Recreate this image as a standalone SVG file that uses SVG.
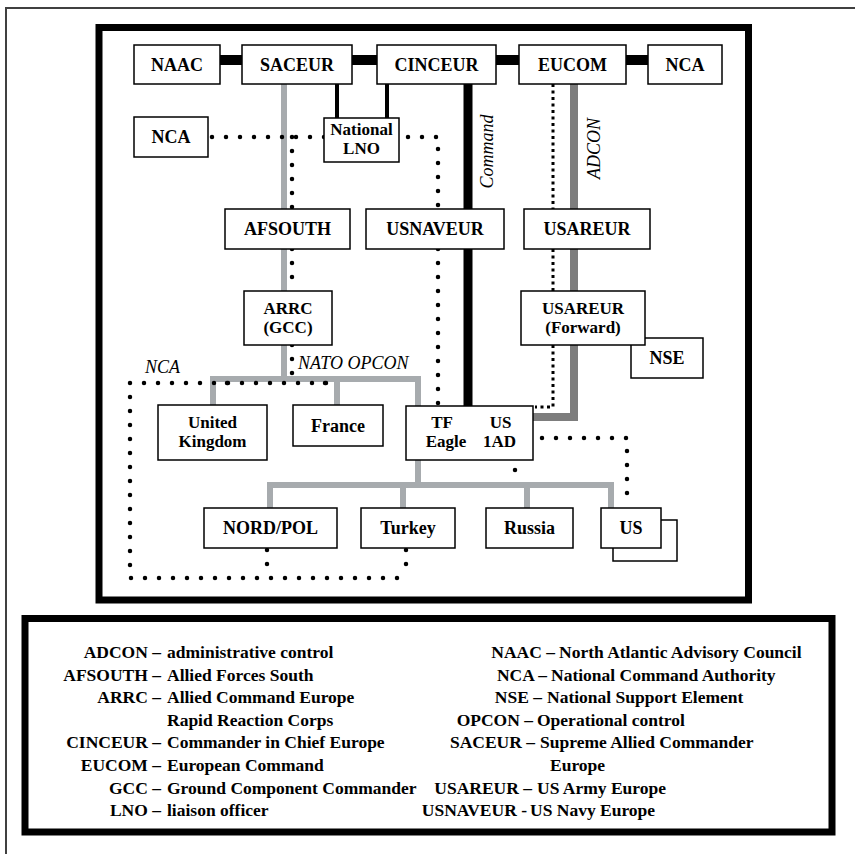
<svg xmlns="http://www.w3.org/2000/svg" width="855" height="854" viewBox="0 0 855 854">
<style>
.box{fill:#fff;stroke:#000;stroke-width:1.5}
.t{font-family:"Liberation Serif","Times New Roman",serif;font-weight:bold;font-size:18px;text-anchor:middle;fill:#000}
.t2{font-size:17px}
.it{font-family:"Liberation Serif","Times New Roman",serif;font-style:italic;font-size:18px;fill:#000}
.lg{font-family:"Liberation Serif","Times New Roman",serif;font-weight:bold;font-size:17.5px;fill:#000}
.e{text-anchor:end}
.dot{fill:none;stroke:#000;stroke-width:4.5;stroke-linecap:round;stroke-dasharray:0 14}
.fdot{fill:none;stroke:#000;stroke-width:3;stroke-dasharray:3 3.5}
.gray{fill:none;stroke:#a7abae;stroke-width:6}
.adcon{fill:none;stroke:#7d7d7d;stroke-width:8}
.blk{fill:none;stroke:#000}
.frame{fill:none;stroke:#000;stroke-width:7}
</style>
<rect width="855" height="854" fill="#fff"/>
<path d="M6,854 V8 H855" fill="none" stroke="#404040" stroke-width="2"/>
<rect class="frame" x="99" y="27.5" width="649.5" height="572.5"/>
<rect class="frame" x="25" y="618.5" width="807" height="213.5"/>

<g id="connectors">
  <path class="blk" stroke-width="10" d="M220,60 H242 M352,60 H377 M496,60 H519 M626,60 H648"/>
  <path class="blk" stroke-width="4" d="M337,84 V118 M387,84 V118"/>
  <path class="blk" stroke-width="9" d="M468,84 V406"/>
  <path class="adcon" d="M574,84 V417 H533"/>
  <path class="gray" d="M284,84 V379 M213,405 V379 H418 V406 M337,379 V405"/>
  <path class="gray" d="M418,460 V485 M270,508 V485 H611 V508 M403,485 V508 M527,485 V508"/>
  <path class="fdot" d="M553,84 V209 M553,249 V291 M553,345 V407 H535"/>
  <path class="dot" d="M212,137 H438 V209 M292,137 V209 M292,249 V291 M292,345 V378 M438,249 V406"/>
  <path class="dot" d="M130,383 H327 M227,383 V397 M325,383 V397 M130,383 V578 H408 M267,550 V578 M406,550 V578"/>
  <path class="dot" d="M542,438 H627 V502"/>
  <path class="dot" style="stroke-dasharray:0 28" d="M515,470 V498"/>
</g>

<g id="NAAC"><rect class="box" x="134" y="45" width="86" height="39"/><text class="t" x="177" y="71">NAAC</text></g>
<g id="SACEUR"><rect class="box" x="242" y="45" width="110" height="39"/><text class="t" x="297" y="71">SACEUR</text></g>
<g id="CINCEUR"><rect class="box" x="377" y="45" width="119" height="39"/><text class="t" x="436.5" y="71">CINCEUR</text></g>
<g id="EUCOM"><rect class="box" x="519" y="45" width="107" height="39"/><text class="t" x="572.5" y="71">EUCOM</text></g>
<g id="NCA-top"><rect class="box" x="648" y="45" width="74" height="39"/><text class="t" x="685" y="71">NCA</text></g>
<g id="NCA-left"><rect class="box" x="134" y="117" width="74" height="40"/><text class="t" x="171" y="143">NCA</text></g>
<g id="NationalLNO"><rect class="box" x="324" y="118" width="75" height="44"/><text class="t t2" y="135"><tspan x="361.5">National</tspan><tspan x="361.5" dy="19">LNO</tspan></text></g>
<g id="AFSOUTH"><rect class="box" x="225" y="209" width="125" height="40"/><text class="t" x="287.5" y="235">AFSOUTH</text></g>
<g id="USNAVEUR"><rect class="box" x="366" y="209" width="138" height="40"/><text class="t" x="435" y="235">USNAVEUR</text></g>
<g id="USAREUR"><rect class="box" x="524" y="209" width="126" height="40"/><text class="t" x="587" y="235">USAREUR</text></g>
<g id="ARRC"><rect class="box" x="244" y="291" width="88" height="54"/><text class="t t2" y="313.5"><tspan x="288">ARRC</tspan><tspan x="288" dy="19">(GCC)</tspan></text></g>
<g id="NSE"><rect class="box" x="631" y="338" width="72" height="40"/><text class="t" x="667" y="364">NSE</text></g>
<g id="USAREUR-Forward"><rect class="box" x="521" y="291" width="124" height="54"/><text class="t t2" y="313.5"><tspan x="583">USAREUR</tspan><tspan x="583" dy="19">(Forward)</tspan></text></g>
<g id="UnitedKingdom"><rect class="box" x="158" y="405" width="109" height="55"/><text class="t t2" y="428"><tspan x="212.5">United</tspan><tspan x="212.5" dy="19">Kingdom</tspan></text></g>
<g id="France"><rect class="box" x="293" y="405" width="90" height="41"/><text class="t" x="338" y="432">France</text></g>
<g id="TF-Eagle"><rect class="box" x="406" y="406" width="127" height="54"/><text class="t t2" y="428"><tspan x="442">TF</tspan><tspan x="446" dy="19">Eagle</tspan></text><text class="t t2" y="428"><tspan x="500.5">US</tspan><tspan x="499.5" dy="19">1AD</tspan></text></g>
<g id="NORD-POL"><rect class="box" x="204" y="508" width="133" height="40"/><text class="t" x="270.5" y="534">NORD/POL</text></g>
<g id="Turkey"><rect class="box" x="361" y="508" width="94" height="40"/><text class="t" x="408" y="534">Turkey</text></g>
<g id="Russia"><rect class="box" x="486" y="508" width="87" height="40"/><text class="t" x="529.5" y="534">Russia</text></g>
<g id="US"><rect class="box" x="613" y="520" width="64" height="41"/><rect class="box" x="601" y="508" width="60" height="40"/><text class="t" x="631" y="534">US</text></g>

<g id="labels">
  <text class="it" text-anchor="middle" transform="translate(493,151.5) rotate(-90)">Command</text>
  <text class="it" text-anchor="middle" transform="translate(600,148.5) rotate(-90)">ADCON</text>
  <text class="it" x="298" y="369">NATO OPCON</text>
  <text class="it" x="145" y="373">NCA</text>
</g>

<g id="legend">
  <text class="lg e" x="161" y="658">ADCON –</text><text class="lg" x="167" y="658">administrative control</text>
  <text class="lg e" x="161" y="680.6">AFSOUTH –</text><text class="lg" x="167" y="680.6">Allied Forces South</text>
  <text class="lg e" x="161" y="703.2">ARRC –</text><text class="lg" x="167" y="703.2">Allied Command Europe</text>
  <text class="lg" x="167" y="725.8">Rapid Reaction Corps</text>
  <text class="lg e" x="161" y="748.4">CINCEUR –</text><text class="lg" x="167" y="748.4">Commander in Chief Europe</text>
  <text class="lg e" x="161" y="771">EUCOM –</text><text class="lg" x="167" y="771">European Command</text>
  <text class="lg e" x="161" y="793.6">GCC –</text><text class="lg" x="167" y="793.6">Ground Component Commander</text>
  <text class="lg e" x="161" y="816.2">LNO –</text><text class="lg" x="167" y="816.2">liaison officer</text>

  <text class="lg e" x="555" y="658">NAAC –</text><text class="lg" x="559" y="658">North Atlantic Advisory Council</text>
  <text class="lg e" x="547" y="680.6">NCA –</text><text class="lg" x="551" y="680.6">National Command Authority</text>
  <text class="lg e" x="542" y="703.2">NSE –</text><text class="lg" x="547" y="703.2">National Support Element</text>
  <text class="lg e" x="533" y="725.8">OPCON –</text><text class="lg" x="537" y="725.8">Operational control</text>
  <text class="lg e" x="535" y="748.4">SACEUR –</text><text class="lg" x="540" y="748.4">Supreme Allied Commander</text>
  <text class="lg" x="550" y="771">Europe</text>
  <text class="lg e" x="532" y="793.6">USAREUR –</text><text class="lg" x="537" y="793.6">US Army Europe</text>
  <text class="lg e" x="527" y="816.2">USNAVEUR -</text><text class="lg" x="530" y="816.2">US Navy Europe</text>
</g>
</svg>
